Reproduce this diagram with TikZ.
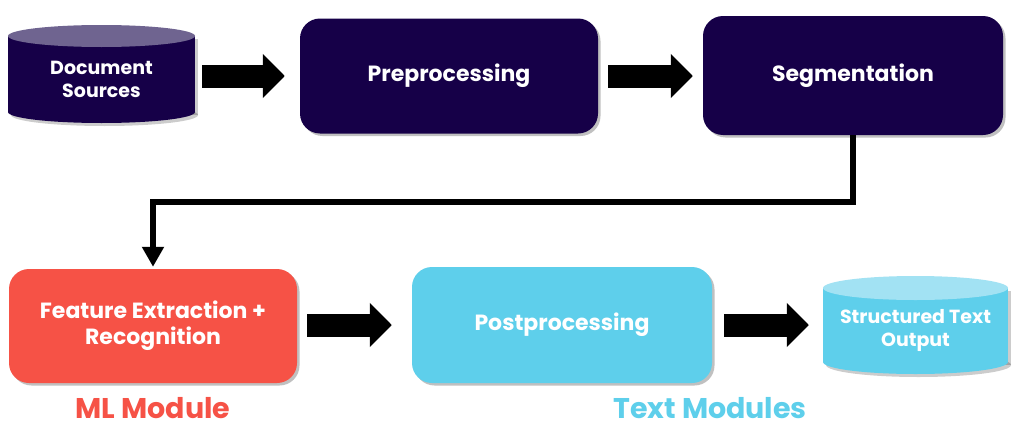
\documentclass[tikz,border=0pt]{standalone}
\usepackage{fontspec}
\setmainfont{Poppins}
\usetikzlibrary{arrows.meta,shadows,calc}
\definecolor{navy}{RGB}{22,0,72}
\definecolor{navytop}{RGB}{111,100,144}
\definecolor{redbox}{RGB}{246,82,70}
\definecolor{cyanbox}{RGB}{94,207,235}
\definecolor{cyantop}{RGB}{162,226,243}
\tikzset{
  box/.style={rounded corners=20pt, minimum width=#1, inner sep=0pt, text=white,
    align=center, font=\bfseries\fontsize{22}{26}\selectfont,
    drop shadow={shadow xshift=2.5pt, shadow yshift=-2.5pt, opacity=0.35, fill=black!70}},
  cyltext/.style={inner sep=0pt, text=white, align=center,
    font=\bfseries\fontsize{19}{23}\selectfont, minimum width=#1, minimum height=98pt},
  blockarrow/.style={line width=23pt, -{Triangle[length=22pt,width=43pt]}},
  elbow/.style={line width=6pt, -{Triangle[length=20pt,width=21pt]}},
  modlabel/.style={font=\bfseries\fontsize{28.5}{32}\selectfont}
}
\begin{document}
\begin{tikzpicture}[x=1pt,y=-1pt]
\useasboundingbox (0,0) rectangle (1024,439);
\fill[white] (0,0) rectangle (1024,439);
% Document Sources cylinder
\begin{scope}[shift={(3,3)}]
  \fill[black,opacity=0.2] (8,36) rectangle (195,112);
  \fill[black,opacity=0.2] (101.5,112) ellipse [x radius=93.5, y radius=11];
\end{scope}
\fill[navy] (8,36) rectangle (195,112);
\fill[navy] (101.5,112) ellipse [x radius=93.5, y radius=11];
\fill[navytop] (101.5,36) ellipse [x radius=93.5, y radius=11];
\node[cyltext=187pt] (ds) at (101.5,79) {Document\\Sources};
% Structured Text Output cylinder
\begin{scope}[shift={(3,3)}]
  \fill[black,opacity=0.2] (823,288) rectangle (1008,362);
  \fill[black,opacity=0.2] (915.5,362) ellipse [x radius=92.5, y radius=12];
\end{scope}
\fill[cyanbox] (823,288) rectangle (1008,362);
\fill[cyanbox] (915.5,362) ellipse [x radius=92.5, y radius=12];
\fill[cyantop] (915.5,288) ellipse [x radius=92.5, y radius=12];
\node[cyltext=185pt] (so) at (915.5,330) {Structured Text\\Output};
% Boxes
\node[box=298pt, minimum height=115pt, fill=navy] (pre) at (449,76) {Preprocessing};
\node[box=300pt, minimum height=119pt, fill=navy] (seg) at (853,75.5) {Segmentation};
\node[box=288pt, minimum height=114pt, fill=redbox] (feat) at (153,326) {Feature Extraction +\\Recognition};
\node[box=300pt, minimum height=116pt, fill=cyanbox] (post) at (562,325) {Postprocessing};
% labels
\node[modlabel, text=redbox] (ml) at (153,408) {ML Module};
\node[modlabel, text=cyanbox] (tm) at (710,408) {Text Modules};
% block arrows
\draw[blockarrow, shorten <=7pt, shorten >=15pt] (ds.east|-pre.west) -- (pre.west);
\draw[blockarrow, shorten <=10pt, shorten >=10pt] (pre.east) -- (pre.east-|seg.west);
\draw[blockarrow, shorten <=10pt, shorten >=20pt] (feat.east|-post.west) -- (post.west);
\draw[blockarrow, shorten <=12pt, shorten >=14pt] (post.east) -- (post.east-|so.west);
% elbow connector
\coordinate (mid) at (500,202);
\draw[elbow, shorten >=2pt] (seg.south) |- (mid) -| (feat.north);
\end{tikzpicture}
\end{document}
